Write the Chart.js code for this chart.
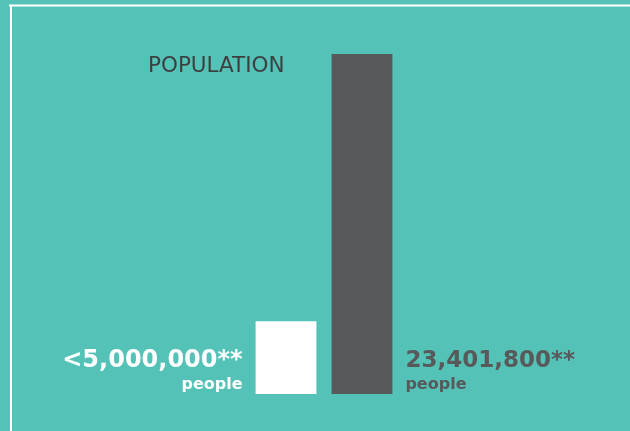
<!DOCTYPE html>
<html>
<head>
<meta charset="utf-8">
<script src="https://cdn.jsdelivr.net/npm/chart.js@4"></script>
<style>
  html, body { margin: 0; padding: 0; background: #54C2B7; }
  #wrap { width: 630px; height: 431px; position: relative; }
</style>
</head>
<body>
<div id="wrap"><canvas id="c" width="630" height="431"></canvas></div>
<script>
const categories = ["Before", "Now"];
const populationValues = [5000000, 23401800];
const valueLabels = ["<5,000,000**", "23,401,800**"];
const unitLabels = ["people", "people"];
const chartTitle = "POPULATION";

const barColors = ["#FFFFFF", "#58595B"];
const labelColors = ["#FFFFFF", "#58595B"];

const framePlugin = {
  id: "frame",
  beforeDraw(chart) {
    const ctx = chart.ctx;
    ctx.save();
    ctx.fillStyle = "#54C2B7";
    ctx.fillRect(0, 0, chart.width, chart.height);
    ctx.strokeStyle = "#FFFFFF";
    ctx.lineWidth = 2;
    ctx.beginPath();
    ctx.moveTo(9, 5.5);
    ctx.lineTo(chart.width, 5.5);
    ctx.moveTo(11, 4.5);
    ctx.lineTo(11, chart.height);
    ctx.stroke();
    ctx.restore();
  }
};

const labelPlugin = {
  id: "barLabels",
  afterDatasetsDraw(chart) {
    const ctx = chart.ctx;
    const meta = chart.getDatasetMeta(0);
    ctx.save();
    meta.data.forEach((bar, i) => {
      const half = bar.width / 2;
      const bottom = bar.base;
      let x, align;
      if (i === 0) { x = bar.x - half - 13; align = "right"; }
      else { x = bar.x + half + 13; align = "left"; }
      ctx.textAlign = align;
      ctx.textBaseline = "alphabetic";
      ctx.fillStyle = labelColors[i];
      ctx.font = (i === 0 ? "bold 24px" : "bold 23px") + " 'DejaVu Sans'";
      ctx.fillText(valueLabels[i], x, bottom - 27);
      ctx.font = "bold 16px 'DejaVu Sans'";
      ctx.fillText(unitLabels[i], x, bottom - 5);
    });
    // title to the left of the tall bar, near its top
    const tall = meta.data[1];
    ctx.textAlign = "right";
    ctx.fillStyle = "#3E3F41";
    ctx.font = "21.5px 'DejaVu Sans'";
    ctx.fillText(chartTitle, tall.x - tall.width / 2 - 47, tall.y + 18);
    ctx.restore();
  }
};

new Chart(document.getElementById("c"), {
  type: "bar",
  data: {
    labels: categories,
    datasets: [{
      data: populationValues,
      backgroundColor: barColors,
      borderWidth: 0,
      categoryPercentage: 1.0,
      barPercentage: 0.8
    }]
  },
  options: {
    responsive: false,
    animation: false,
    devicePixelRatio: 1,
    layout: { padding: { left: 248, right: 230, top: 54, bottom: 37 } },
    plugins: { legend: { display: false }, tooltip: { enabled: false }, title: { display: false } },
    scales: {
      x: { display: false },
      y: { display: false, min: 0, max: 23401800 }
    }
  },
  plugins: [framePlugin, labelPlugin]
});
</script>
</body>
</html>
